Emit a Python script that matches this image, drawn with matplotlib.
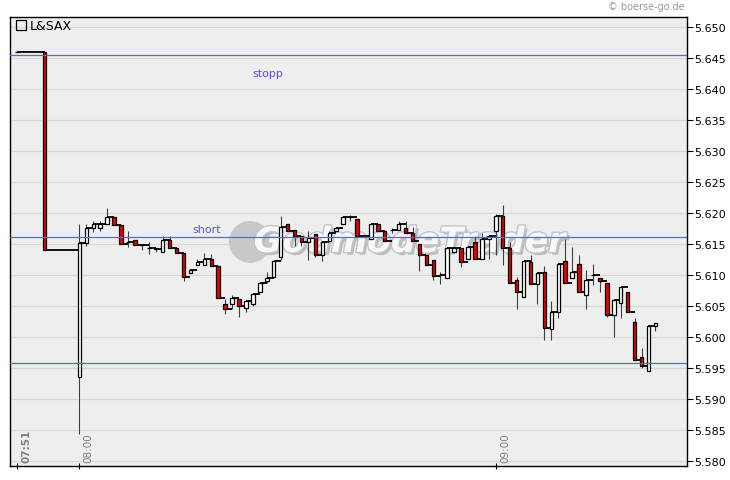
import matplotlib
matplotlib.use("Agg")
import matplotlib.pyplot as plt
import matplotlib.patheffects as pe
from matplotlib.patches import Ellipse, Rectangle
import numpy as np

# ---- data (minutes after 08:00, OHLC) ----
times = [-9, -5] + list(range(0, 41)) + list(range(42, 84))

opens = [5.6460, 5.6460, 5.5936, 5.6152, 5.6176, 5.6177, 5.6182, 5.6194, 5.6181, 5.6153,
         5.6157, 5.6149, 5.6144, 5.6144, 5.6137, 5.6157, 5.6144, 5.6136, 5.6103, 5.6117,
         5.6117, 5.6127, 5.6115, 5.6054, 5.6054, 5.6061, 5.6047, 5.6054, 5.6073, 5.6090,
         5.6098, 5.6130, 5.6182, 5.6173, 5.6164, 5.6154, 5.6167, 5.6132, 5.6155, 5.6172,
         5.6182, 5.6194, 5.6190, 5.6159, 5.6182, 5.6172, 5.6173, 5.6173, 5.6177, 5.6168,
         5.6150, 5.6133, 5.6125, 5.6100, 5.6095, 5.6137, 5.6144, 5.6127, 5.6153, 5.6127,
         5.6159, 5.6171, 5.6195, 5.6144, 5.6092, 5.6065, 5.6121, 5.6086, 5.6105, 5.6013,
         5.6040, 5.6123, 5.6095, 5.6118, 5.6068, 5.6100, 5.6095, 5.6087, 5.6036, 5.6055,
         5.6073, 5.6024, 5.5969, 5.5946, 5.6018]
highs = [5.6460, 5.6460, 5.6183, 5.6183, 5.6188, 5.6188, 5.6209, 5.6194, 5.6181, 5.6171,
         5.6157, 5.6149, 5.6154, 5.6144, 5.6164, 5.6164, 5.6144, 5.6136, 5.6109, 5.6127,
         5.6136, 5.6134, 5.6115, 5.6061, 5.6068, 5.6061, 5.6059, 5.6070, 5.6088, 5.6105,
         5.6123, 5.6195, 5.6182, 5.6173, 5.6164, 5.6171, 5.6167, 5.6153, 5.6172, 5.6177,
         5.6194, 5.6197, 5.6190, 5.6182, 5.6182, 5.6172, 5.6176, 5.6188, 5.6188, 5.6178,
         5.6150, 5.6133, 5.6125, 5.6105, 5.6144, 5.6144, 5.6144, 5.6145, 5.6164, 5.6168,
         5.6164, 5.6199, 5.6213, 5.6153, 5.6097, 5.6123, 5.6133, 5.6103, 5.6115, 5.6059,
         5.6118, 5.6159, 5.6146, 5.6133, 5.6109, 5.6118, 5.6095, 5.6087, 5.6060, 5.6081,
         5.6073, 5.6031, 5.5983, 5.6018, 5.6023]
lows = [5.6460, 5.6140, 5.5844, 5.6148, 5.6170, 5.6172, 5.6182, 5.6181, 5.6150, 5.6145,
        5.6149, 5.6141, 5.6135, 5.6137, 5.6137, 5.6144, 5.6136, 5.6091, 5.6103, 5.6117,
        5.6117, 5.6115, 5.6063, 5.6038, 5.6045, 5.6032, 5.6040, 5.6050, 5.6073, 5.6088,
        5.6098, 5.6124, 5.6171, 5.6148, 5.6148, 5.6124, 5.6130, 5.6123, 5.6155, 5.6172,
        5.6182, 5.6187, 5.6164, 5.6159, 5.6172, 5.6155, 5.6168, 5.6173, 5.6168, 5.6155,
        5.6107, 5.6117, 5.6092, 5.6086, 5.6095, 5.6137, 5.6113, 5.6127, 5.6127, 5.6127,
        5.6127, 5.6132, 5.6117, 5.6087, 5.6046, 5.6065, 5.6086, 5.6053, 5.5995, 5.5996,
        5.6031, 5.6088, 5.6095, 5.6073, 5.6045, 5.6085, 5.6073, 5.6032, 5.6001, 5.6031,
        5.6040, 5.5964, 5.5950, 5.5946, 5.6010]
closes = [5.6460, 5.6140, 5.6152, 5.6176, 5.6182, 5.6182, 5.6194, 5.6181, 5.6150, 5.6154,
          5.6149, 5.6149, 5.6144, 5.6143, 5.6157, 5.6144, 5.6136, 5.6098, 5.6109, 5.6122,
          5.6127, 5.6115, 5.6063, 5.6045, 5.6063, 5.6050, 5.6059, 5.6070, 5.6088, 5.6096,
          5.6123, 5.6178, 5.6171, 5.6163, 5.6154, 5.6160, 5.6132, 5.6153, 5.6168, 5.6177,
          5.6194, 5.6194, 5.6164, 5.6182, 5.6172, 5.6155, 5.6173, 5.6182, 5.6168, 5.6155,
          5.6133, 5.6117, 5.6099, 5.6100, 5.6144, 5.6144, 5.6121, 5.6145, 5.6127, 5.6159,
          5.6164, 5.6195, 5.6144, 5.6087, 5.6073, 5.6123, 5.6086, 5.6103, 5.6015, 5.6040,
          5.6118, 5.6088, 5.6105, 5.6073, 5.6092, 5.6100, 5.6090, 5.6036, 5.6060, 5.6081,
          5.6040, 5.5964, 5.5954, 5.6018, 5.6023]

level_values = [5.6455, 5.6161, 5.5959]
level_labels = ["stopp", "short", ""]
label_times = [27.2, 18.4, None]

tick_times = [-9, 0, 60]
tick_labels = ["07:51", "08:00", "09:00"]
y_ticks = [5.580, 5.585, 5.590, 5.595, 5.600, 5.605, 5.610, 5.615, 5.620,
           5.625, 5.630, 5.635, 5.640, 5.645, 5.650]

title = "L&SAX"
credit = "\u00a9 boerse-go.de"

# ---- figure ----
W, H = 730, 481
fig = plt.figure(figsize=(W / 100, H / 100), dpi=100)
fig.patch.set_facecolor("white")
L, R, T, B = 10, 687, 18, 467
ax = fig.add_axes([L / W, 1 - B / H, (R - L) / W, (B - T) / H])
ax.set_facecolor("#EEEEEE")
ax.set_xlim(-10.0, 87.55)
ax.set_ylim(5.57924, 5.65166)

for s in ax.spines.values():
    s.set_color("black")
    s.set_linewidth(1.0)

# grid
for v in y_ticks:
    ax.axhline(v, color="#D9D9D9", lw=0.9, zorder=0.5)

# watermark
ax.add_patch(Ellipse((0.3545, 0.499), 42 / (R - L), 42 / (B - T), transform=ax.transAxes,
                     facecolor="#C8C8C8", edgecolor="none", zorder=0.8))
ax.text(0.36, 0.499, "GodmodeTrader", transform=ax.transAxes, ha="left", va="center",
        fontsize=25, fontweight="bold", style="italic", color="#F8F8F8",
        family=["Liberation Sans Narrow", "DejaVu Sans"], zorder=0.9,
        path_effects=[pe.withSimplePatchShadow(offset=(2, -2), shadow_rgbFace="#B8B8B8", alpha=0.9),
                      pe.withStroke(linewidth=2, foreground="#C4C4C4")])

t = np.array(times, dtype=float)
o = np.array(opens); h = np.array(highs); lo = np.array(lows); c = np.array(closes)

# wicks
ax.vlines(t, lo, h, color="#404040", lw=0.8, zorder=2)
# connectors: close level to next bar
ax.hlines(c[:-1], t[:-1], t[1:], color="black", lw=1.3, zorder=3)
# bodies
colors = ["#EE0000" if cc < oo else "white" for oo, cc in zip(o, c)]
ax.bar(t, c - o, bottom=o, width=0.5, color=colors, edgecolor="black",
       linewidth=0.9, zorder=4)

# levels
for v, lab, lt in zip(level_values, level_labels, label_times):
    ax.axhline(v, color="#5F5FFF", lw=0.9, zorder=5)
    if lab:
        off = -13 if lab == "stopp" else 6
        ax.annotate(lab, (lt, v), xytext=(0, off), textcoords="offset points",
                    ha="center", va="center", color="#5555EE", fontsize=8, zorder=6)

# axes ticks
ax.yaxis.tick_right()
ax.set_yticks(y_ticks)
ax.set_yticklabels([f"{v:.3f}" for v in y_ticks], fontsize=8)
ax.tick_params(axis="y", direction="out", length=4, width=0.8, color="black", pad=1)
ax.set_xticks(tick_times)
ax.set_xticklabels([])
ax.tick_params(axis="x", direction="inout", length=5, width=0.8, color="black")
for tt, lab in zip(tick_times, tick_labels):
    ax.annotate(lab, (tt, 5.57924), xytext=(3, 3), textcoords="offset points",
                rotation=90, ha="left", va="bottom", fontsize=7.5, color="#808080",
                fontweight="bold" if lab == "07:51" else "normal", zorder=6)

# legend
fig.patches.append(Rectangle((16 / W, 1 - 31 / H), 10 / W, 10 / H, transform=fig.transFigure,
                             facecolor="none", edgecolor="black", lw=0.9))
fig.text(30 / W, 1 - 26.5 / H, title, ha="left", va="center", fontsize=9, color="black")
fig.text(685 / W, 1 - 7 / H, credit, ha="right", va="center", fontsize=7, color="#999999")

fig.savefig("out.png", dpi=100)
